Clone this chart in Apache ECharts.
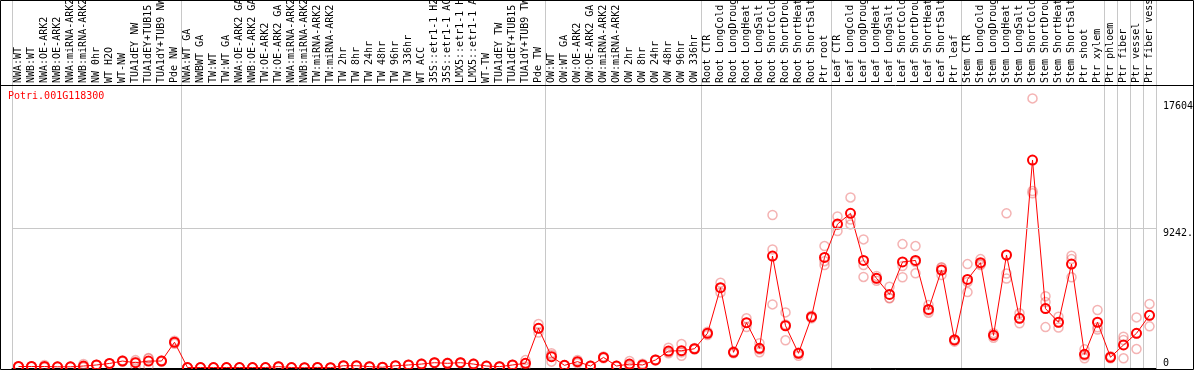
<!DOCTYPE html>
<html>
<head>
<meta charset="utf-8">
<script src="https://cdn.jsdelivr.net/npm/echarts@6/dist/echarts.min.js"></script>
<style>
  html, body { margin: 0; padding: 0; background: #fff; }
  #chart { width: 1194px; height: 370px; }
</style>
</head>
<body>
<div id="chart"></div>
<script>
const geneId = 'Potri.001G118300';

const samples = [
  'NWA:WT', 'NWB:WT', 'NWA:OE-ARK2', 'NWB:OE-ARK2', 'NWA:miRNA-ARK2', 'NWB:miRNA-ARK2', 'NW 0hr', 'WT H2O', 'WT-NW',
  'TUA1dEY NW', 'TUA1dEY+TUB15 NW', 'TUA1dY+TUB9 NW', 'Pde NW',
  'NWA:WT GA', 'NWBWT GA', 'TW:WT', 'TW:WT GA', 'NWA:OE-ARK2 GA', 'NWB:OE-ARK2 GA', 'TW:OE-ARK2', 'TW:OE-ARK2 GA',
  'NWA:miRNA-ARK2 GA', 'NWB:miRNA-ARK2 GA', 'TW:miRNA-ARK2', 'TW:miRNA-ARK2 GA', 'TW 2hr', 'TW 8hr', 'TW 24hr', 'TW 48hr',
  'TW 96hr', 'TW 336hr', 'WT ACC', '35S::etr1-1 H2O', '35S::etr1-1 ACC', 'LMX5::etr1-1 H2O', 'LMX5::etr1-1 ACC', 'WT-TW',
  'TUA1dEY TW', 'TUA1dEY+TUB15 TW', 'TUA1dY+TUB9 TW', 'Pde TW',
  'OW:WT', 'OW:WT GA', 'OW:OE-ARK2', 'OW:OE-ARK2 GA', 'OW:miRNA-ARK2', 'OW:miRNA-ARK2 GA', 'OW 2hr', 'OW 8hr', 'OW 24hr',
  'OW 48hr', 'OW 96hr', 'OW 336hr',
  'Root CTR', 'Root LongCold', 'Root LongDrought', 'Root LongHeat', 'Root LongSalt', 'Root ShortCold', 'Root ShortDrought',
  'Root ShortHeat', 'Root ShortSalt', 'Ptr root',
  'Leaf CTR', 'Leaf LongCold', 'Leaf LongDrought', 'Leaf LongHeat', 'Leaf LongSalt', 'Leaf ShortCold', 'Leaf ShortDrought',
  'Leaf ShortHeat', 'Leaf ShortSalt', 'Ptr leaf',
  'Stem CTR', 'Stem LongCold', 'Stem LongDrought', 'Stem LongHeat', 'Stem LongSalt', 'Stem ShortCold', 'Stem ShortDrought',
  'Stem ShortHeat', 'Stem ShortSalt', 'Ptr shoot', 'Ptr xylem',
  'Ptr phloem', 'Ptr fiber', 'Ptr vessel', 'Ptr fiber vessel'
];

// first sample of each block (a grey separator is drawn before it)
const groupStarts = [0, 13, 41, 53, 63, 73, 84, 85, 86, 87];

const means = [
  100, 100, 100, 80, 80, 130, 200, 300, 460, 350, 460, 460, 1700,
  30, 30, 30, 30, 30, 30, 30, 90, 30, 20, 40, 20, 150, 150, 90, 50, 150, 200, 260, 350, 310, 350, 260, 130, 90, 200, 310, 2620,
  750, 175, 420, 130, 700, 130, 260, 200, 530, 1120, 1140, 1270,
  2290, 5300, 1035, 2990, 1300, 7390, 2790, 970, 3370, 7300,
  9500, 10210, 7100, 5920, 4860, 7000, 7100, 3870, 6470, 1850,
  5850, 6950, 2160, 7460, 3280, 13730, 3920, 3020, 6860, 900, 3020,
  710, 1520, 2290, 3480
];

const rep1 = [
  110, 110, 200, 90, 90, 260, 220, 320, 500, 520, 660, 500, 1800,
  40, 40, 40, 40, 40, 40, 40, 120, 40, 30, 50, 30, 170, 170, 110, 60, 170, 220, 290, 380, 340, 380, 290, 150, 110, 220, 520, 2900,
  970, 200, 530, 150, 760, 150, 460, 280, 560, 1340, 1580, 1320,
  2400, 5630, 1100, 3280, 1640, 10100, 3670, 1030, 3450, 8050,
  10000, 11260, 8490, 6080, 5370, 8180, 8050, 4160, 6650, 1900,
  6860, 7190, 2300, 10210, 3610, 17800, 4740, 3390, 7410, 1230, 3830,
  780, 2070, 3340, 4230
];

const rep2 = [
  100, 100, 60, 80, 80, 80, 200, 300, 460, 420, 620, 460, 1700,
  30, 30, 30, 30, 30, 30, 30, 90, 30, 20, 40, 20, 150, 150, 90, 50, 150, 200, 260, 350, 310, 350, 260, 130, 90, 200, 310, 2620,
  860, 175, 420, 130, 700, 130, 200, 200, 530, 1050, 1030, 1270,
  2290, 5300, 1035, 2990, 1220, 7830, 2870, 970, 3370, 7050,
  9460, 9800, 6800, 5920, 4620, 6730, 7000, 3800, 6620, 1850,
  5680, 6860, 2160, 6240, 3280, 11680, 4360, 3000, 7190, 830, 2690,
  710, 1850, 2280, 3460
];

const rep3 = [
  90, 90, 40, 70, 70, 50, 180, 280, 420, 100, 100, 420, 1600,
  20, 20, 20, 20, 20, 20, 20, 60, 20, 10, 30, 10, 130, 130, 70, 40, 130, 180, 230, 320, 280, 320, 230, 110, 70, 180, 100, 2340,
  420, 150, 310, 110, 640, 110, 120, 120, 500, 970, 810, 1220,
  2180, 4990, 970, 2700, 1040, 4200, 1830, 810, 3290, 6800,
  9040, 9480, 6010, 5760, 4600, 5990, 6250, 3650, 6140, 1740,
  5010, 6800, 2000, 5910, 2950, 11530, 2700, 2670, 5990, 640, 2540,
  640, 640, 1250, 2750
];

const yMax = 18683;
const yMarks = [9242.5, 17604];
const yZero = [0];

const mono = 'DejaVu Sans Mono';
const chart = echarts.init(document.getElementById('chart'));

const repSeries = [rep1, rep2, rep3].map(function (rep, k) {
  const s = {
    type: 'scatter',
    xAxisIndex: 0,
    yAxisIndex: 0,
    z: 1,
    symbol: 'circle',
    symbolSize: 9,
    itemStyle: { color: 'rgba(0,0,0,0)', borderColor: 'rgba(232,96,96,0.6)', borderWidth: 1.5 },
    data: rep.map(function (v, i) { return [i, v]; })
  };
  if (k === 0) {
    s.markLine = {
      silent: true,
      symbol: 'none',
      label: { show: false },
      lineStyle: { color: '#c8c8c8', type: 'solid', width: 1 },
      data: [{ yAxis: yMarks[0] }]
    };
  }
  return s;
});

const option = {
  animation: false,
  backgroundColor: '#fff',
  title: {
    text: geneId,
    left: 8,
    top: 91,
    padding: 0,
    textStyle: { color: '#ff0000', fontFamily: mono, fontSize: 10, fontWeight: 'normal' }
  },
  grid: [
    { left: 12, right: 38, top: 85, bottom: 2, containLabel: false, outerBoundsMode: 'none' },
    { left: 12, right: 38, top: 0, height: 85, containLabel: false, outerBoundsMode: 'none' }
  ],
  xAxis: [
    {
      type: 'category',
      gridIndex: 0,
      position: 'top',
      data: samples,
      boundaryGap: true,
      axisLine: { show: true, lineStyle: { color: '#000', width: 1 } },
      axisTick: { show: false },
      axisLabel: { interval: 0, rotate: 90, margin: 2, fontFamily: mono, fontSize: 10, color: '#000' },
      splitLine: {
        show: true,
        interval: function (i) { return groupStarts.indexOf(i) >= 0; },
        lineStyle: { color: '#c8c8c8', width: 1 }
      }
    },
    {
      type: 'category',
      gridIndex: 1,
      data: samples,
      boundaryGap: true,
      axisLine: { show: false },
      axisTick: { show: false },
      axisLabel: { show: false },
      splitLine: {
        show: true,
        interval: function (i) { return groupStarts.indexOf(i) >= 0; },
        lineStyle: { color: '#c8c8c8', width: 1 }
      }
    }
  ],
  yAxis: [
    {
      type: 'value',
      gridIndex: 0,
      position: 'right',
      min: 0,
      max: yMax,
      axisLine: { show: false },
      axisTick: { show: false },
      splitLine: { show: false },
      axisLabel: {
        customValues: yMarks,
        margin: 7,
        verticalAlign: 'top',
        fontFamily: mono,
        fontSize: 10,
        color: '#000',
        formatter: function (v) { return String(v); }
      }
    },
    {
      type: 'value',
      gridIndex: 0,
      position: 'right',
      min: 0,
      max: yMax,
      axisLine: { show: false },
      axisTick: { show: false },
      splitLine: { show: false },
      axisLabel: {
        customValues: yZero,
        margin: 7,
        verticalAlign: 'bottom',
        fontFamily: mono,
        fontSize: 10,
        color: '#000'
      }
    },
    { type: 'value', gridIndex: 1, show: false, min: 0, max: 1 }
  ],
  series: repSeries.concat([
    {
      type: 'line',
      name: geneId,
      xAxisIndex: 0,
      yAxisIndex: 0,
      z: 3,
      data: means,
      symbol: 'circle',
      symbolSize: 9,
      showAllSymbol: true,
      lineStyle: { color: '#ff0000', width: 1 },
      itemStyle: { color: 'rgba(0,0,0,0)', borderColor: '#ff0000', borderWidth: 2 }
    },
    { type: 'line', xAxisIndex: 1, yAxisIndex: 2, data: [] }
  ]),
  graphic: [
    {
      type: 'line',
      z: 100,
      silent: true,
      shape: { x1: 0, y1: 85.5, x2: 1194, y2: 85.5 },
      style: { stroke: '#000', lineWidth: 1 }
    },
    {
      type: 'rect',
      z: 100,
      silent: true,
      shape: { x: 0.5, y: 0.5, width: 1193, height: 369 },
      style: { fill: 'none', stroke: '#000', lineWidth: 1 }
    }
  ]
};

chart.setOption(option);
</script>
</body>
</html>
